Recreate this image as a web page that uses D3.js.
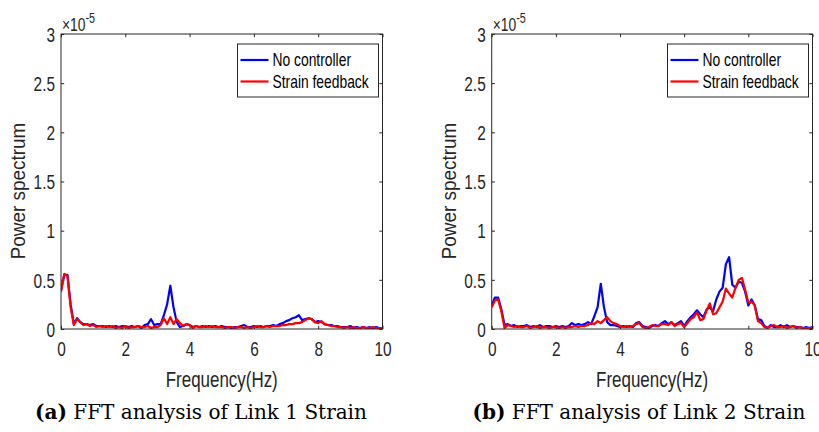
<!DOCTYPE html>
<html>
<head>
<meta charset="utf-8">
<script src="https://cdn.jsdelivr.net/npm/d3@7"></script>
<style>
  html, body { margin: 0; padding: 0; background: #fff; }
  svg { display: block; }
</style>
</head>
<body>
<svg id="chart" width="819" height="432"></svg>
<script>
// Frequency grid of the spectra (Hz)
const freqHz = [
  0.0, 0.1, 0.2, 0.3, 0.4, 0.5, 0.6, 0.7, 0.8, 0.9,
  1.0, 1.1, 1.2, 1.3, 1.4, 1.5, 1.6, 1.7, 1.8, 1.9,
  2.0, 2.1, 2.2, 2.3, 2.4, 2.5, 2.6, 2.7, 2.8, 2.9,
  3.0, 3.1, 3.2, 3.3, 3.4, 3.5, 3.6, 3.7, 3.8, 3.9,
  4.0, 4.1, 4.2, 4.3, 4.4, 4.5, 4.6, 4.7, 4.8, 4.9,
  5.0, 5.1, 5.2, 5.3, 5.4, 5.5, 5.6, 5.7, 5.8, 5.9,
  6.0, 6.1, 6.2, 6.3, 6.4, 6.5, 6.6, 6.7, 6.8, 6.9,
  7.0, 7.1, 7.2, 7.3, 7.4, 7.5, 7.6, 7.7, 7.8, 7.9,
  8.0, 8.1, 8.2, 8.3, 8.4, 8.5, 8.6, 8.7, 8.8, 8.9,
  9.0, 9.1, 9.2, 9.3, 9.4, 9.5, 9.6, 9.7, 9.8, 9.9,
  10.0
];

// Power spectrum values, in units of 1e-5
const link1NoController = [
  0.39, 0.55, 0.55, 0.25, 0.05, 0.11, 0.07, 0.05, 0.05, 0.04,
  0.05, 0.03, 0.03, 0.03, 0.02, 0.03, 0.02, 0.03, 0.02, 0.03,
  0.03, 0.02, 0.03, 0.02, 0.03, 0.01, 0.04, 0.05, 0.10, 0.04,
  0.05, 0.05, 0.14, 0.25, 0.44, 0.22, 0.07, 0.02, 0.03, 0.05,
  0.04, 0.02, 0.03, 0.02, 0.03, 0.02, 0.03, 0.02, 0.03, 0.02,
  0.03, 0.02, 0.02, 0.01, 0.02, 0.02, 0.03, 0.04, 0.02, 0.02,
  0.03, 0.02, 0.03, 0.02, 0.03, 0.03, 0.04, 0.03, 0.05, 0.06,
  0.08, 0.09, 0.11, 0.12, 0.14, 0.09, 0.10, 0.11, 0.10, 0.07,
  0.08, 0.07, 0.05, 0.04, 0.04, 0.03, 0.03, 0.02, 0.02, 0.02,
  0.03, 0.01, 0.02, 0.01, 0.02, 0.01, 0.02, 0.01, 0.02, 0.01,
  0.01
];
const link1StrainFeedback = [
  0.38, 0.56, 0.54, 0.22, 0.04, 0.10, 0.07, 0.04, 0.05, 0.03,
  0.04, 0.02, 0.03, 0.02, 0.03, 0.02, 0.03, 0.01, 0.02, 0.01,
  0.03, 0.01, 0.02, 0.02, 0.03, 0.02, 0.02, 0.03, 0.01, 0.02,
  0.02, 0.04, 0.11, 0.05, 0.12, 0.05, 0.10, 0.06, 0.03, 0.05,
  0.04, 0.01, 0.03, 0.02, 0.02, 0.03, 0.02, 0.03, 0.02, 0.02,
  0.02, 0.01, 0.02, 0.02, 0.01, 0.02, 0.02, 0.01, 0.02, 0.01,
  0.02, 0.03, 0.02, 0.02, 0.03, 0.02, 0.03, 0.03, 0.03, 0.04,
  0.04, 0.05, 0.05, 0.06, 0.06, 0.07, 0.09, 0.11, 0.10, 0.07,
  0.06, 0.08, 0.05, 0.04, 0.03, 0.03, 0.02, 0.02, 0.01, 0.02,
  0.01, 0.02, 0.01, 0.01, 0.02, 0.01, 0.01, 0.02, 0.01, 0.01,
  0.01
];
const link2NoController = [
  0.24, 0.32, 0.32, 0.20, 0.04, 0.05, 0.03, 0.04, 0.02, 0.03,
  0.03, 0.04, 0.02, 0.03, 0.02, 0.04, 0.02, 0.03, 0.03, 0.02,
  0.03, 0.02, 0.03, 0.02, 0.03, 0.06, 0.04, 0.05, 0.04, 0.05,
  0.07, 0.05, 0.13, 0.22, 0.46, 0.22, 0.07, 0.04, 0.04, 0.03,
  0.02, 0.03, 0.02, 0.03, 0.02, 0.06, 0.07, 0.03, 0.02, 0.01,
  0.03, 0.04, 0.03, 0.06, 0.08, 0.05, 0.07, 0.04, 0.06, 0.08,
  0.03, 0.08, 0.12, 0.15, 0.19, 0.15, 0.12, 0.20, 0.22, 0.18,
  0.30, 0.38, 0.42, 0.66, 0.73, 0.45, 0.42, 0.48, 0.47, 0.38,
  0.24, 0.30, 0.24, 0.10, 0.09, 0.03, 0.01, 0.04, 0.02, 0.02,
  0.04, 0.02, 0.04, 0.02, 0.03, 0.02, 0.02, 0.01, 0.02, 0.01,
  0.02
];
const link2StrainFeedback = [
  0.22, 0.29, 0.30, 0.18, 0.01, 0.04, 0.03, 0.02, 0.03, 0.02,
  0.02, 0.03, 0.01, 0.02, 0.03, 0.01, 0.02, 0.02, 0.01, 0.02,
  0.02, 0.01, 0.02, 0.01, 0.02, 0.02, 0.03, 0.02, 0.03, 0.03,
  0.04, 0.06, 0.05, 0.08, 0.06, 0.09, 0.12, 0.08, 0.06, 0.05,
  0.03, 0.02, 0.03, 0.02, 0.03, 0.05, 0.06, 0.02, 0.01, 0.02,
  0.04, 0.03, 0.03, 0.05, 0.05, 0.04, 0.07, 0.03, 0.05, 0.06,
  0.02, 0.06, 0.10, 0.12, 0.17, 0.09, 0.10, 0.19, 0.26, 0.15,
  0.16, 0.22, 0.28, 0.41, 0.36, 0.32, 0.42, 0.50, 0.52, 0.40,
  0.27, 0.28, 0.24, 0.08, 0.06, 0.02, 0.01, 0.03, 0.04, 0.02,
  0.02, 0.03, 0.01, 0.02, 0.03, 0.01, 0.02, 0.01, 0.01, 0.01,
  0.01
];

const seriesNames = ["No controller", "Strain feedback"];
const seriesColors = ["#0000ff", "#ff0000"];
const xTickValues = [0, 2, 4, 6, 8, 10];
const yTickValues = [0, 0.5, 1, 1.5, 2, 2.5, 3];
const xLabel = "Frequency(Hz)";
const yLabel = "Power spectrum";
const captionTags = ["(a)", "(b)"];
const captionTexts = ["FFT analysis of Link 1 Strain", "FFT analysis of Link 2 Strain"];

const svg = d3.select("#chart");
svg.append("rect").attr("width", 819).attr("height", 432).attr("fill", "#fff");

const sans = '"Liberation Sans", Arial, Helvetica, sans-serif';
const axisColor = "#262626";
const narrow = 0.77;   // horizontal squeeze of the figure lettering

const panels = [
  { left: 61, right: 382.5, series: [link1NoController, link1StrainFeedback], captionX: 201 },
  { left: 491.7, right: 812.5, series: [link2NoController, link2StrainFeedback], captionX: 639 }
];
const plotTop = 34, plotBottom = 329;
const defs = svg.append("defs");

// condensed sans text placed at (x, y)
function sansText(parent, x, y, size, str, anchor) {
  return parent.append("text")
    .attr("transform", `translate(${x},${y}) scale(${narrow},1)`)
    .attr("text-anchor", anchor || "start")
    .attr("font-family", sans).attr("font-size", size).attr("fill", axisColor)
    .text(str);
}

panels.forEach((p, i) => {
  const x = d3.scaleLinear().domain([0, 10]).range([p.left, p.right]);
  const y = d3.scaleLinear().domain([0, 3]).range([plotBottom, plotTop]);
  const g = svg.append("g");

  // clip to the axes box
  const clipId = "clip" + i;
  defs.append("clipPath").attr("id", clipId)
    .append("rect").attr("x", p.left).attr("y", plotTop)
    .attr("width", p.right - p.left).attr("height", plotBottom - plotTop);

  const tickLen = 3.2;
  const xb = g.append("g").attr("transform", `translate(0,${plotBottom})`)
    .call(d3.axisBottom(x).tickValues(xTickValues).tickSize(-tickLen).tickFormat(d3.format("d")));
  const xt = g.append("g").attr("transform", `translate(0,${plotTop})`)
    .call(d3.axisTop(x).tickValues(xTickValues).tickSize(-tickLen).tickFormat(""));
  const yl = g.append("g").attr("transform", `translate(${p.left},0)`)
    .call(d3.axisLeft(y).tickValues(yTickValues).tickSize(-tickLen).tickFormat(d => d3.format("~g")(d)));
  const yr = g.append("g").attr("transform", `translate(${p.right},0)`)
    .call(d3.axisRight(y).tickValues(yTickValues).tickSize(-tickLen).tickFormat(""));

  [xb, xt, yl, yr].forEach(a => {
    a.select(".domain").remove();
    a.selectAll(".tick line").attr("stroke", axisColor).attr("stroke-width", 1);
    a.selectAll(".tick text").attr("fill", axisColor).attr("font-size", 20).attr("font-family", sans);
  });
  xb.selectAll(".tick text").attr("x", 0).attr("y", 0).attr("dy", null)
    .attr("transform", `translate(0,26.5) scale(${narrow},1)`);
  yl.selectAll(".tick text").attr("x", 0).attr("y", 0).attr("dy", "0.36em")
    .attr("transform", `translate(-6,0) scale(${narrow},1)`);

  // data lines
  const lines = g.append("g").attr("clip-path", `url(#${clipId})`);
  p.series.forEach((vals, k) => {
    const line = d3.line().x((d, j) => x(freqHz[j])).y(d => y(d));
    lines.append("path").datum(vals)
      .attr("d", line)
      .attr("fill", "none")
      .attr("stroke", seriesColors[k])
      .attr("stroke-width", 2.2)
      .attr("stroke-linejoin", "round");
  });

  // axes box
  g.append("rect").attr("x", p.left).attr("y", plotTop)
    .attr("width", p.right - p.left).attr("height", plotBottom - plotTop)
    .attr("fill", "none").attr("stroke", axisColor).attr("stroke-width", 1);

  // exponent multiplier
  const ex = sansText(g, p.left + 1, 31, 18, "");
  ex.append("tspan").text("\u00d710");
  ex.append("tspan").attr("dy", -8).attr("font-size", 14).text("-5");

  // axis labels
  sansText(g, (p.left + p.right) / 2, 387, 22, xLabel, "middle");
  g.append("text")
    .attr("transform", `translate(${p.left - 36},191) rotate(-90) scale(0.86,0.9)`)
    .attr("text-anchor", "middle")
    .attr("font-family", sans).attr("font-size", 22).attr("fill", axisColor)
    .text(yLabel);

  // legend
  const lgW = 141, lgRight = p.right - 4, lgLeft = lgRight - lgW;
  const lg = g.append("g");
  lg.append("rect").attr("x", lgLeft).attr("y", 44).attr("width", lgW).attr("height", 53)
    .attr("fill", "#fff").attr("stroke", axisColor).attr("stroke-width", 1);
  seriesNames.forEach((name, k) => {
    const ry = 60 + k * 21.5;
    lg.append("line").attr("x1", lgLeft + 3).attr("x2", lgLeft + 31)
      .attr("y1", ry).attr("y2", ry)
      .attr("stroke", seriesColors[k]).attr("stroke-width", 2.2);
    sansText(lg, lgLeft + 35, ry, 18, name).attr("dy", "0.36em").attr("fill", "#000");
  });

  // caption
  const cap = svg.append("text").attr("x", p.captionX).attr("y", 419)
    .attr("text-anchor", "middle").attr("font-family", '"DejaVu Serif", serif')
    .attr("font-size", 20).attr("fill", "#000");
  cap.append("tspan").attr("font-weight", "bold").text(captionTags[i]);
  cap.append("tspan").text(" " + captionTexts[i]);
});
</script>
</body>
</html>
